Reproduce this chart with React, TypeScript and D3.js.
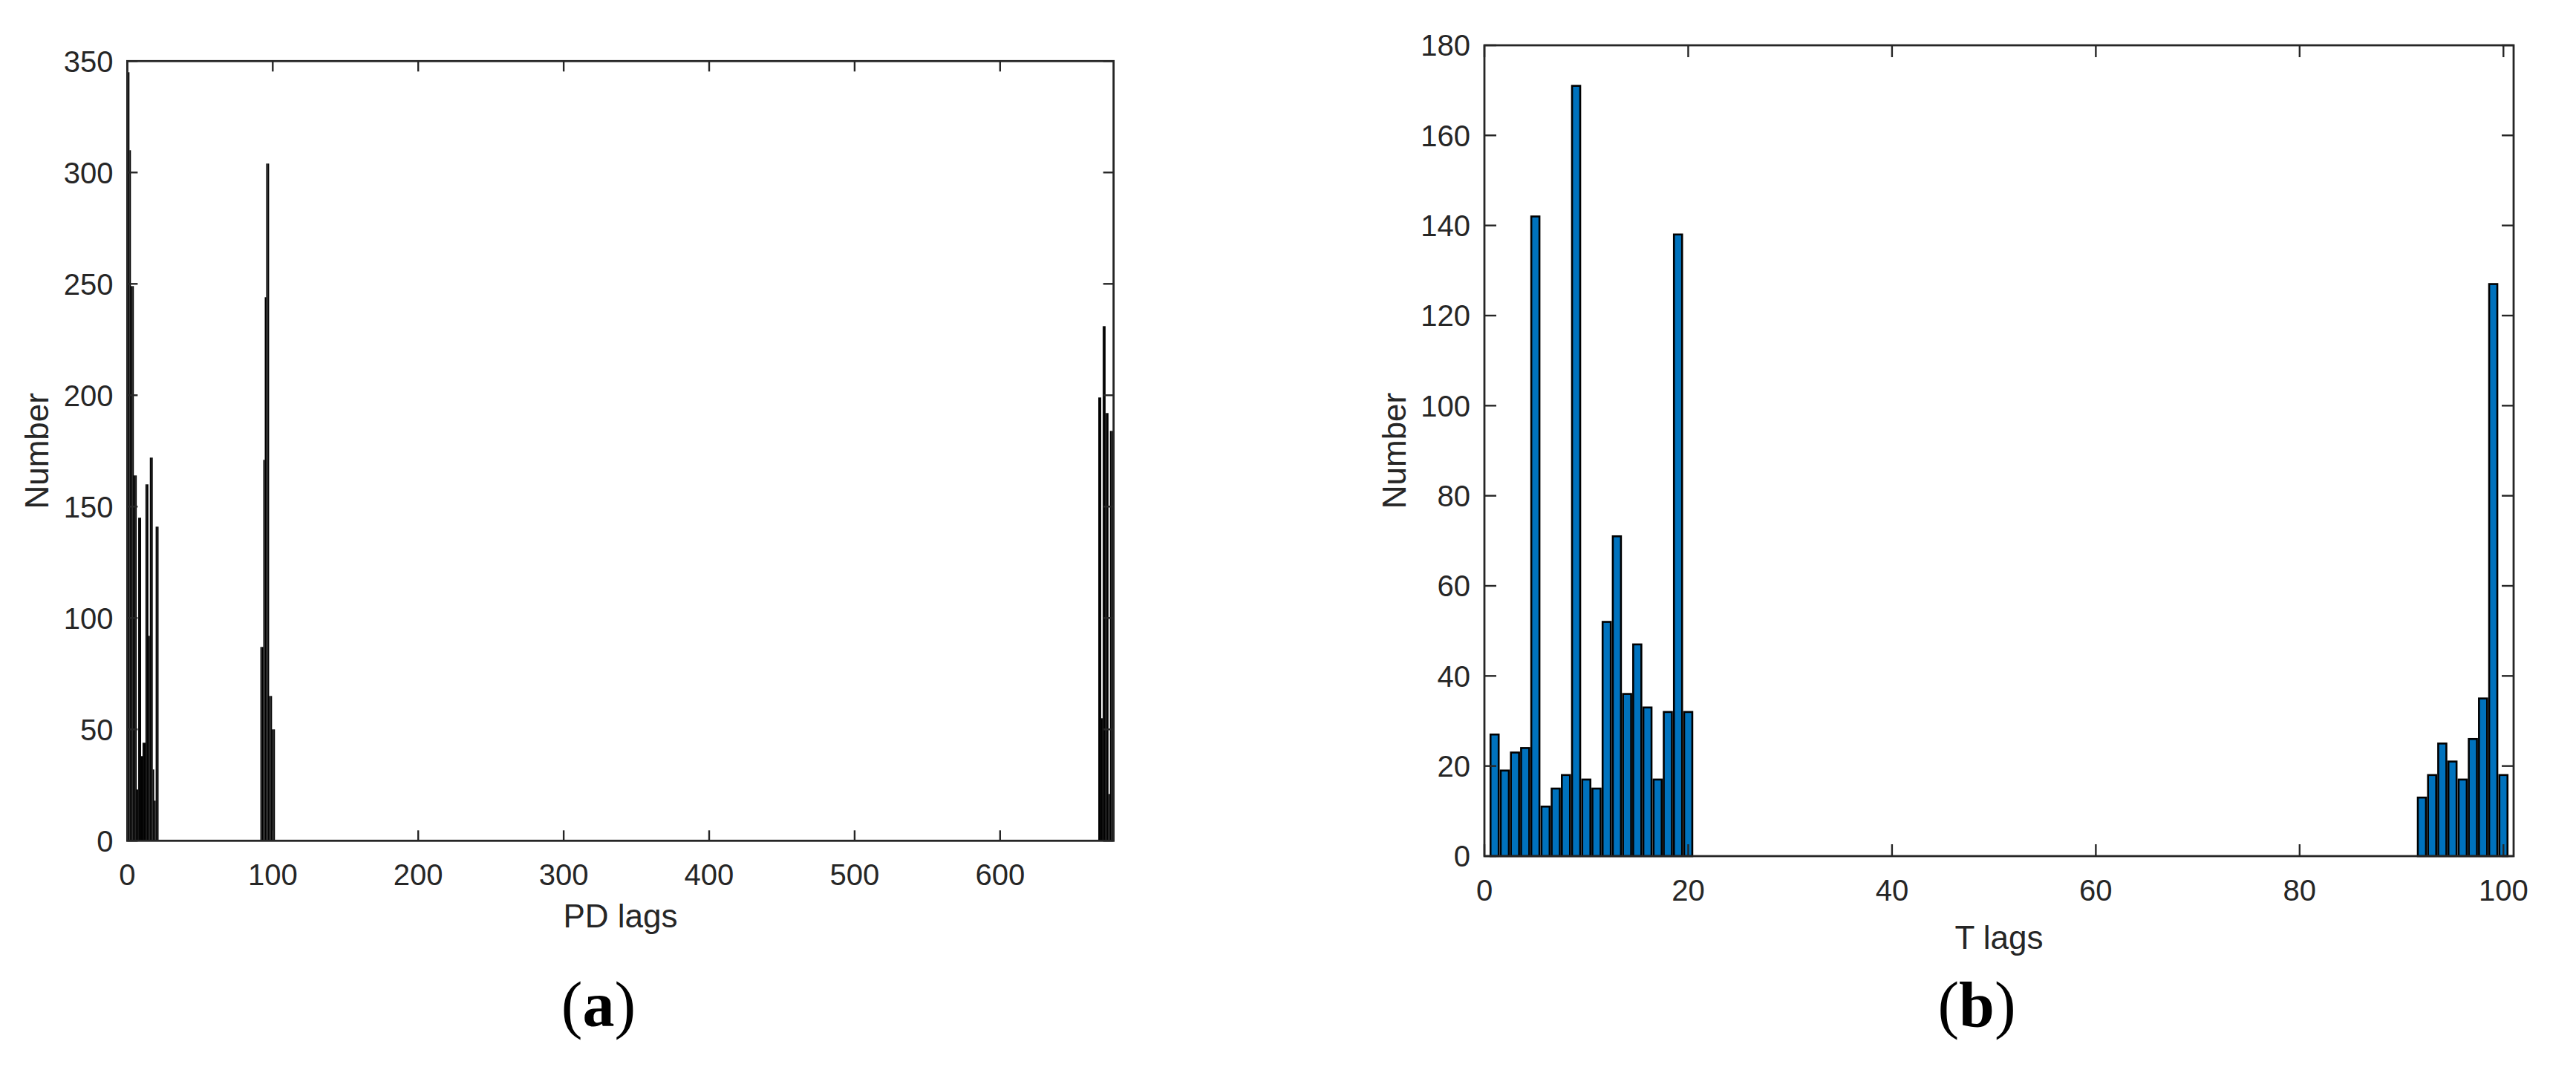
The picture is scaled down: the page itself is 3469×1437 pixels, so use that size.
import * as d3 from "d3";

// (a) PD lags histogram
const PD_LAGS = [
  1, 2, 3, 4, 5, 6, 7, 8, 9, 10, 11, 12, 13, 14, 15, 16, 17, 18, 19, 20, 21,
  92, 93, 94, 95, 96, 97, 98, 99, 100, 101,
  668, 669, 670, 671, 672, 673, 674, 675, 676, 677,
];
const PD_COUNTS = [
  345, 310, 249, 249, 164, 164, 23, 145, 145, 38, 44, 44, 160, 160, 92, 172, 172, 32, 18, 141, 141,
  87, 87, 171, 244, 304, 304, 65, 65, 50, 50,
  199, 199, 55, 231, 231, 192, 192, 21, 184, 184,
];
const PD_X_TICKS = [0, 100, 200, 300, 400, 500, 600];
const PD_Y_TICKS = [0, 50, 100, 150, 200, 250, 300, 350];

// (b) T lags histogram
const T_LAGS = [
  1, 2, 3, 4, 5, 6, 7, 8, 9, 10, 11, 12, 13, 14, 15, 16, 17, 18, 19, 20,
  92, 93, 94, 95, 96, 97, 98, 99, 100,
];
const T_COUNTS = [
  27, 19, 23, 24, 142, 11, 15, 18, 171, 17, 15, 52, 71, 36, 47, 33, 17, 32, 138, 32,
  13, 18, 25, 21, 17, 26, 35, 127, 18,
];
const T_X_TICKS = [0, 20, 40, 60, 80, 100];
const T_Y_TICKS = [0, 20, 40, 60, 80, 100, 120, 140, 160, 180];

const AXIS_COLOR = "#262626";
const SANS = "'Liberation Sans', Arial, Helvetica, sans-serif";
const SERIF = "'Liberation Serif', 'Times New Roman', serif";

function Panel({ box, xMax, yMax, lags, counts, xTicks, yTicks, barFrac, fill, stroke, strokeWidth, tickLen, xLabel, tag }) {
  const x = d3.scaleLinear().domain([0, xMax]).range([box.left, box.right]);
  const y = d3.scaleLinear().domain([0, yMax]).range([box.bottom, box.top]);
  const half = barFrac / 2;
  const cx = (box.left + box.right) / 2;
  const cy = (box.top + box.bottom) / 2;

  const bars = lags.map((lag, i) => (
    <rect
      key={i}
      x={x(lag - half)}
      y={y(counts[i])}
      width={x(lag + half) - x(lag - half)}
      height={y(0) - y(counts[i])}
      fill={fill}
      stroke={stroke}
      strokeWidth={strokeWidth}
    />
  ));

  return (
    <g>
      {bars}
      {/* ticks on all four sides, pointing inward */}
      {xTicks.map((t) => (
        <g key={"x" + t} stroke={AXIS_COLOR} strokeWidth={2.4}>
          <line x1={x(t)} x2={x(t)} y1={box.bottom} y2={box.bottom - tickLen} />
          <line x1={x(t)} x2={x(t)} y1={box.top} y2={box.top + tickLen} />
        </g>
      ))}
      {yTicks.map((t) => (
        <g key={"y" + t} stroke={AXIS_COLOR} strokeWidth={2.4}>
          <line x1={box.left} x2={box.left + tickLen} y1={y(t)} y2={y(t)} />
          <line x1={box.right} x2={box.right - tickLen} y1={y(t)} y2={y(t)} />
        </g>
      ))}
      <rect
        x={box.left}
        y={box.top}
        width={box.right - box.left}
        height={box.bottom - box.top}
        fill="none"
        stroke={AXIS_COLOR}
        strokeWidth={2.8}
      />
      {xTicks.map((t) => (
        <text key={"xl" + t} x={x(t)} y={box.bottom + 60} textAnchor="middle" fontSize={40} fontFamily={SANS} fill={AXIS_COLOR}>
          {t}
        </text>
      ))}
      {yTicks.map((t) => (
        <text key={"yl" + t} x={box.left - 19} y={y(t)} dy="0.36em" textAnchor="end" fontSize={40} fontFamily={SANS} fill={AXIS_COLOR}>
          {t}
        </text>
      ))}
      <text x={cx} y={box.bottom + xLabel.offset} textAnchor="middle" fontSize={44} fontFamily={SANS} fill={AXIS_COLOR}>
        {xLabel.text}
      </text>
      <text
        transform={`translate(${box.left - 106},${cy}) rotate(-90)`}
        textAnchor="middle"
        fontSize={44}
        fontFamily={SANS}
        fill={AXIS_COLOR}
      >
        Number
      </text>
      <text x={tag.x} y={1382} textAnchor="middle" fontSize={86} fontFamily={SERIF} fill="#000">
        (<tspan fontWeight="bold">{tag.letter}</tspan>)
      </text>
    </g>
  );
}

export default function App() {
  return (
    <svg width={3469} height={1437} style={{ position: "absolute", left: 0, top: 0, background: "#fff" }}>
      <rect width={3469} height={1437} fill="#fff" />
      <Panel
        box={{ left: 171.4, right: 1499.6, top: 82.3, bottom: 1132.3 }}
        xMax={678}
        yMax={350}
        lags={PD_LAGS}
        counts={PD_COUNTS}
        xTicks={PD_X_TICKS}
        yTicks={PD_Y_TICKS}
        barFrac={1}
        fill="#000"
        stroke="none"
        strokeWidth={0}
        tickLen={14}
        xLabel={{ text: "PD lags", offset: 117 }}
        tag={{ x: 806, letter: "a" }}
      />
      <Panel
        box={{ left: 1999, right: 3385, top: 61, bottom: 1153 }}
        xMax={101}
        yMax={180}
        lags={T_LAGS}
        counts={T_COUNTS}
        xTicks={T_X_TICKS}
        yTicks={T_Y_TICKS}
        barFrac={0.8}
        fill="#0072BD"
        stroke="#000"
        strokeWidth={2.6}
        tickLen={16}
        xLabel={{ text: "T lags", offset: 125 }}
        tag={{ x: 2662, letter: "b" }}
      />
    </svg>
  );
}
